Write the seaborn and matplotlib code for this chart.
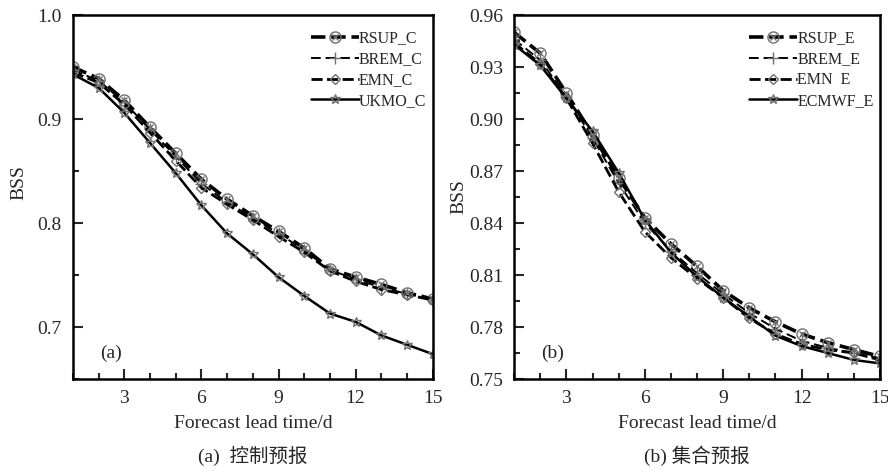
import numpy as np
import pandas as pd
import matplotlib
matplotlib.use('Agg')
import matplotlib.pyplot as plt
import seaborn as sns
from matplotlib.ticker import MultipleLocator, FormatStrFormatter
from matplotlib.lines import Line2D

# dados
lead = [1, 2, 3, 4, 5, 6, 7, 8, 9, 10, 11, 12, 13, 14, 15]

rsup_c = [0.950, 0.939, 0.918, 0.892, 0.867, 0.842, 0.823, 0.807, 0.792, 0.776, 0.756, 0.748, 0.741, 0.733, 0.727]
brem_c = [0.947, 0.937, 0.916, 0.890, 0.864, 0.838, 0.820, 0.805, 0.790, 0.774, 0.755, 0.746, 0.738, 0.732, 0.727]
emn_c = [0.945, 0.935, 0.914, 0.887, 0.860, 0.834, 0.818, 0.803, 0.787, 0.772, 0.754, 0.744, 0.736, 0.731, 0.726]
ukmo_c = [0.943, 0.930, 0.906, 0.877, 0.848, 0.817, 0.790, 0.770, 0.748, 0.730, 0.713, 0.705, 0.692, 0.683, 0.674]

rsup_e = [0.950, 0.938, 0.915, 0.891, 0.866, 0.843, 0.828, 0.815, 0.801, 0.791, 0.783, 0.776, 0.771, 0.767, 0.763]
brem_e = [0.946, 0.934, 0.913, 0.889, 0.863, 0.840, 0.824, 0.811, 0.799, 0.788, 0.779, 0.772, 0.768, 0.765, 0.762]
emn_e = [0.944, 0.932, 0.912, 0.886, 0.858, 0.835, 0.820, 0.808, 0.797, 0.785, 0.776, 0.770, 0.767, 0.765, 0.761]
ecmwf_e = [0.943, 0.931, 0.912, 0.893, 0.869, 0.842, 0.823, 0.809, 0.797, 0.786, 0.775, 0.769, 0.765, 0.761, 0.759]

nomes_c = ['RSUP_C', 'BREM_C', 'EMN_C', 'UKMO_C']
nomes_e = ['RSUP_E', 'BREM_E', 'EMN  E', 'ECMWF_E']

sns.set_theme(style='ticks')
plt.rcParams['font.family'] = ['Liberation Serif', 'Noto Sans CJK SC']

# estilos: (linestyle, linewidth, marker, markersize)
estilos = [
    ((0, (4, 1.6)), 2.6, 'o', 8),
    ((0, (5, 2.5)), 1.4, '+', 8),
    ((0, (4, 1.6)), 2.0, 'D', 5),
    ('-', 1.8, '*', 7),
]
cinza = '#707070'

fig = plt.figure(figsize=(8.88, 4.72), dpi=100)
ax1 = fig.add_axes([0.0822, 0.197, 0.405, 0.771])
ax2 = fig.add_axes([0.579, 0.197, 0.412, 0.771])


def desenha(ax, series, nomes):
    for valores, nome, (ls, lw, mk, ms) in zip(series, nomes, estilos):
        sns.lineplot(x=lead, y=valores, ax=ax, color='black', linestyle=ls, linewidth=lw,
                     marker=mk, markersize=ms, markerfacecolor='none',
                     markeredgecolor=cinza, markeredgewidth=1.0, label=nome)
    # o "x" dentro do circulo (simbolo ⊗ da primeira serie)
    sns.lineplot(x=lead, y=series[0], ax=ax, linestyle='none', marker='x', markersize=5,
                 markeredgecolor=cinza, markeredgewidth=1.0, legend=False)
    ax.set_xlim(1, 15)
    ax.xaxis.set_major_locator(MultipleLocator(3))
    ax.xaxis.set_minor_locator(MultipleLocator(1))
    ax.set_xlabel('Forecast lead time/d', fontsize=14, labelpad=6)
    ax.set_ylabel('BSS', fontsize=14)
    ax.tick_params(which='both', direction='in', top=False, right=False, labelsize=14, width=1.5)
    ax.tick_params(which='major', length=7, pad=8)
    ax.tick_params(which='minor', length=4)
    for s in ax.spines.values():
        s.set_linewidth(1.8)
        s.set_color('black')
        s.set_visible(True)
    handles, labels = ax.get_legend_handles_labels()
    xis = Line2D([], [], linestyle='none', marker='x', markersize=5,
                 markeredgecolor=cinza, markeredgewidth=1.0)
    handles[0] = (handles[0], xis)
    ax.legend(handles, labels, loc='upper right', bbox_to_anchor=(1.0, 0.975),
              frameon=False, fontsize=11.5, handlelength=3.0,
              handletextpad=0.0, labelspacing=0.3, borderaxespad=0.2, borderpad=0.2)


desenha(ax1, [rsup_c, brem_c, emn_c, ukmo_c], nomes_c)
ax1.set_ylim(0.65, 1.0)
ax1.yaxis.set_major_locator(MultipleLocator(0.1))
ax1.yaxis.set_minor_locator(MultipleLocator(0.05))
ax1.yaxis.set_major_formatter(FormatStrFormatter('%.1f'))
ax1.yaxis.set_label_coords(-0.128, 0.54)
ax1.text(0.075, 0.07, '(a)', transform=ax1.transAxes, fontsize=14, va='center')

desenha(ax2, [rsup_e, brem_e, emn_e, ecmwf_e], nomes_e)
ax2.set_ylim(0.75, 0.96)
ax2.yaxis.set_major_locator(MultipleLocator(0.03))
ax2.yaxis.set_minor_locator(MultipleLocator(0.015))
ax2.yaxis.set_major_formatter(FormatStrFormatter('%.2f'))
ax2.yaxis.set_label_coords(-0.128, 0.5)
ax2.text(0.075, 0.07, '(b)', transform=ax2.transAxes, fontsize=14, va='center')

fig.text(0.285, 0.035, '(a)  控制预报', ha='center', va='center', fontsize=14)
fig.text(0.785, 0.035, '(b) 集合预报', ha='center', va='center', fontsize=14)

fig.savefig('out.png', dpi=100)
